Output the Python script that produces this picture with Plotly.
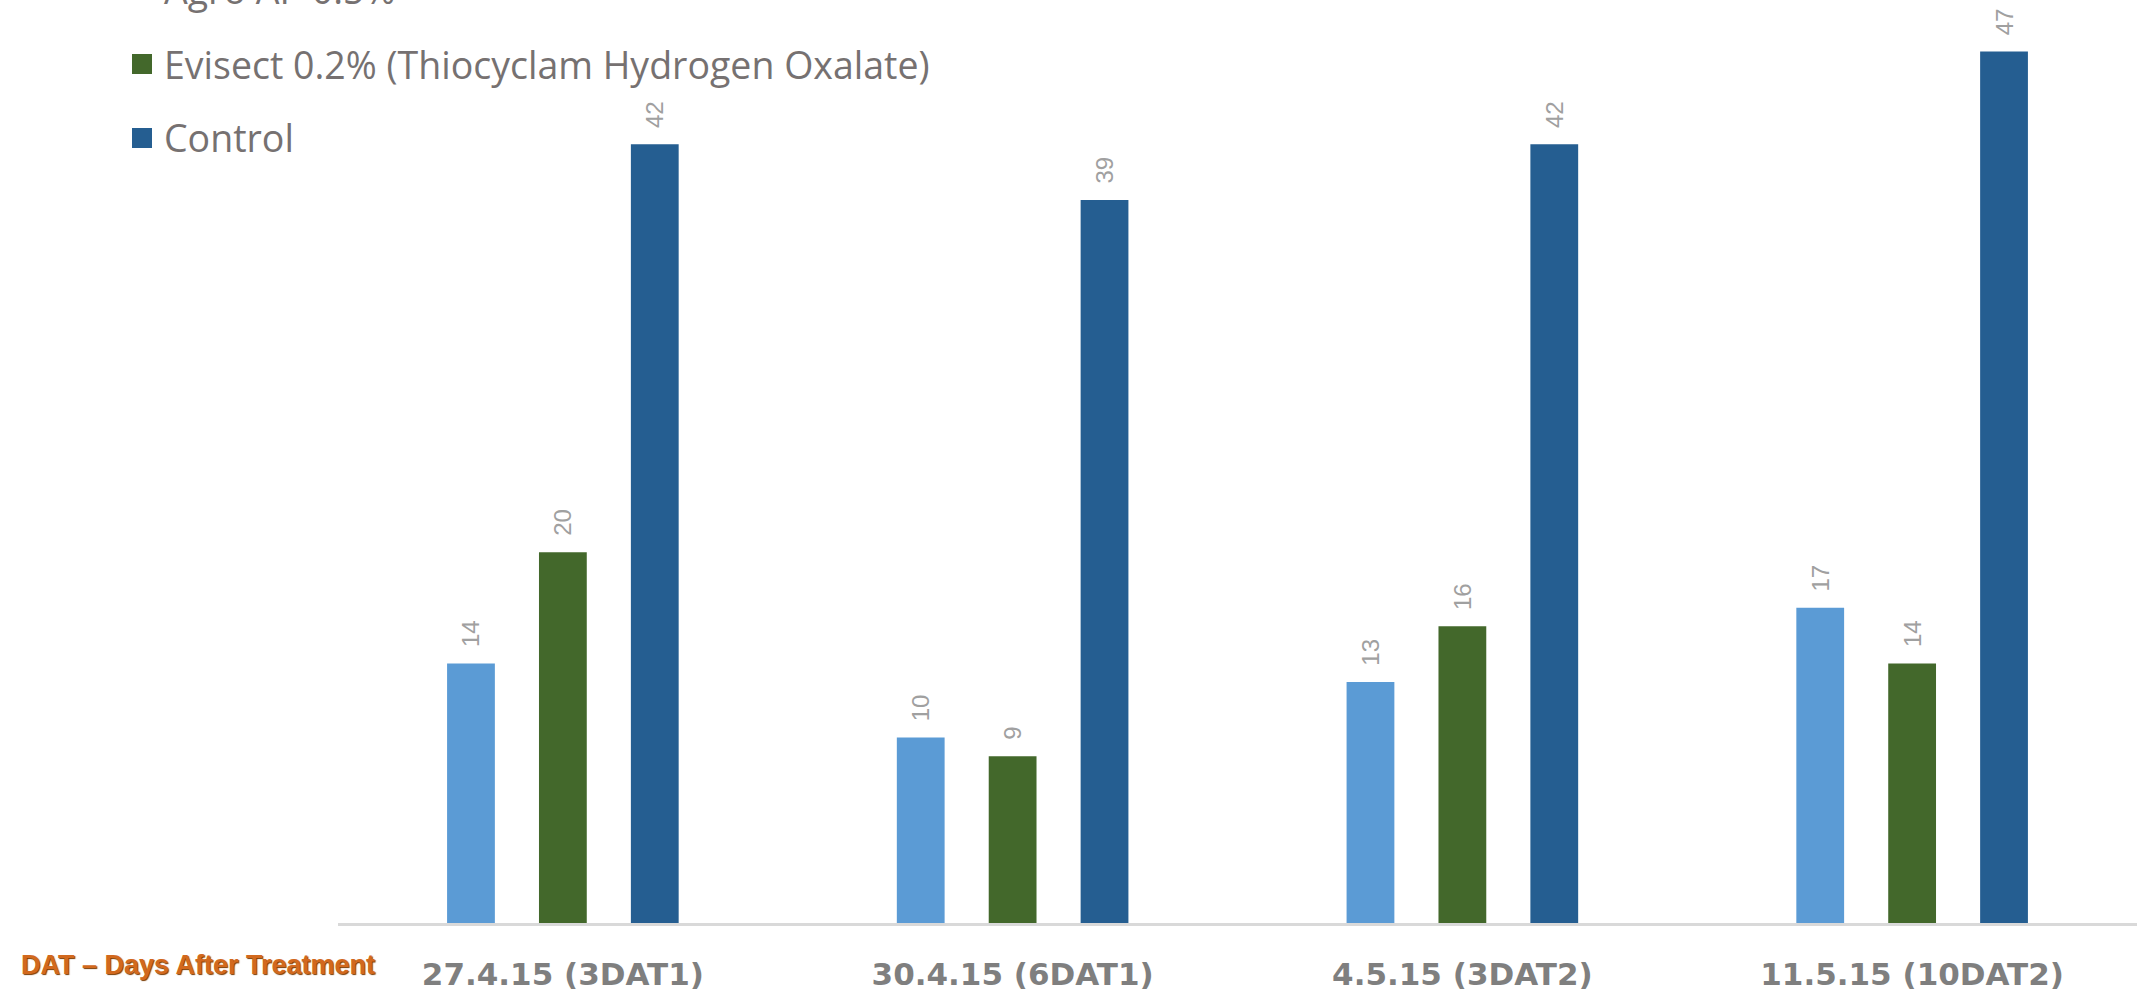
import plotly.graph_objects as go

categories = ["27.4.15 (3DAT1)", "30.4.15 (6DAT1)", "4.5.15 (3DAT2)", "11.5.15 (10DAT2)"]
series_names = ["Agro AP 0.5%", "Evisect 0.2% (Thiocyclam Hydrogen Oxalate)", "Control"]
agro_values = [14, 10, 13, 17]
evisect_values = [20, 9, 16, 14]
control_values = [42, 39, 42, 47]
series_colors = ["#5B9BD5", "#43682B", "#255E91"]
footnote = "DAT – Days After Treatment"

W, H = 2137, 992
ML, MR, MT, MB = 338, 0, 0, 69
plot_h = H - MT - MB
plot_w = W - ML - MR

fig = go.Figure()
for name, vals, col in zip(series_names, [agro_values, evisect_values, control_values], series_colors):
    fig.add_trace(go.Bar(
        x=categories, y=vals, name=name,
        marker=dict(color=col, line=dict(width=0)),
        texttemplate="\u00a0\u00a0%{y}",
        textposition="outside", textangle=-90,
        textfont=dict(family="Liberation Sans, Arial, sans-serif", size=24, color="#A0A0A0"),
        constraintext="none", cliponaxis=False, showlegend=False,
    ))

# manual legend (top item partly cut off like the reference)
legend_font = dict(family="Open Sans, sans-serif", size=37.5, color="#767171")
row_centers_px = [-10, 64, 138]
sq = 20
for name, col, yc in zip(series_names, series_colors, row_centers_px):
    x0 = 132
    fig.add_shape(type="rect", xref="paper", yref="paper",
                  x0=(x0 - ML) / plot_w, x1=(x0 + sq - ML) / plot_w,
                  y0=(plot_h - (yc + sq / 2)) / plot_h, y1=(plot_h - (yc - sq / 2)) / plot_h,
                  fillcolor=col, line=dict(width=0))
    fig.add_annotation(text=name, xref="paper", yref="paper",
                       x=(162 - ML) / plot_w, y=(plot_h - yc) / plot_h,
                       xanchor="left", yanchor="middle", showarrow=False, font=legend_font)

fig.add_annotation(text=footnote, xref="paper", yref="paper",
                   x=(19 - ML) / plot_w, y=(plot_h - 965) / plot_h,
                   xanchor="left", yanchor="middle", showarrow=False,
                   font=dict(family="Liberation Sans Narrow, Liberation Sans, sans-serif", size=27,
                             weight="bold", color="#D2691E", shadow="1px 1px 1px #7a3a00"))

fig.update_layout(
    width=W, height=H,
    margin=dict(l=ML, r=MR, t=MT, b=MB, pad=0, autoexpand=False),
    plot_bgcolor="white", paper_bgcolor="white",
    barmode="group", bargap=0.387, bargroupgap=0.48,
    showlegend=False,
)
fig.update_xaxes(
    automargin=False,
    showline=True, linecolor="#D9D9D9", linewidth=3,
    ticks="outside", ticklen=22, tickcolor="rgba(0,0,0,0)",
    tickfont=dict(family="DejaVu Sans, sans-serif", size=31, color="#7F7F7F", weight="bold"),
    showgrid=False,
)
fig.update_yaxes(automargin=False, range=[0, plot_h / 18.54], visible=False, showgrid=False)

fig.write_html("out.html", config={"displayModeBar": False},
               post_script="document.body.style.margin='0';document.body.style.overflow='hidden';")
